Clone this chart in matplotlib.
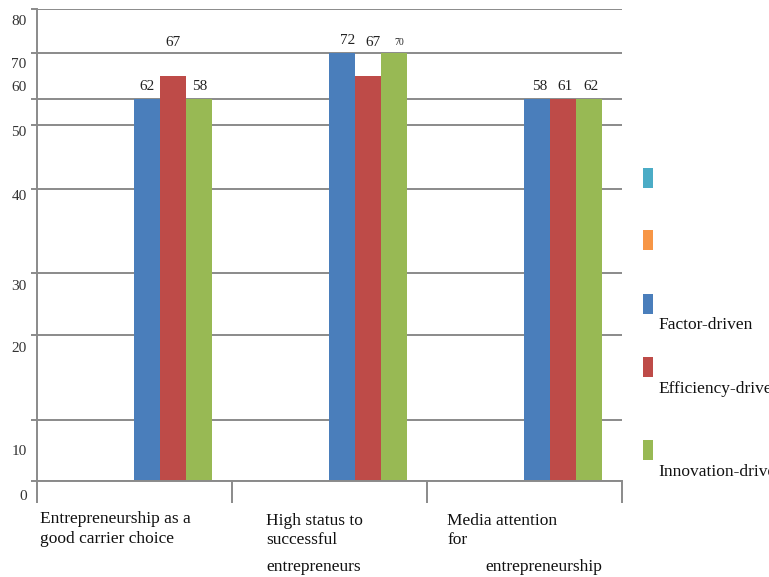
import numpy as np
import matplotlib
matplotlib.use("Agg")
import matplotlib.pyplot as plt
from matplotlib.patches import Rectangle
from matplotlib.transforms import ScaledTranslation

# ---------------- data ----------------
category_lines = [
    ["Entrepreneurship as a", "good carrier choice"],
    ["High status to", "successful", "entrepreneurs"],
    ["Media attention", "for", "entrepreneurship"],
]
series_names = ["", "", "Factor-driven", "Efficiency-driven", "Innovation-driven"]
series_colors = ["#4BACC6", "#F79646", "#4A7EBB", "#BE4B48", "#98B954"]
# bar heights as drawn against the (uneven) value axis
heights_teal = [0, 0, 0]
heights_orange = [0, 0, 0]
heights_factor = [60, 70, 60]
heights_efficiency = [65, 65, 60]
heights_innovation = [60, 70, 60]
# values printed above the bars
labels_factor = [62, 72, 58]
labels_efficiency = [67, 67, 61]
labels_innovation = [58, 70, 62]
y_ticks = [0, 10, 20, 30, 40, 50, 60, 70, 80]

heights = [heights_teal, heights_orange, heights_factor, heights_efficiency, heights_innovation]
labels = [None, None, labels_factor, labels_efficiency, labels_innovation]

# ---------------- layout ----------------
W, H = 769, 577
DPI = 100
# the value axis of the original is uneven: where each gridline sits (fraction of axis height)
grid_frac = [0.0, 0.1292, 0.3093, 0.4407, 0.6186, 0.7542, 0.8093, 0.9068, 1.0]

def fwd(v):
    return np.interp(v, y_ticks, grid_frac)

def inv(f):
    return np.interp(f, grid_frac, y_ticks)

serif = ["Liberation Serif", "DejaVu Serif"]
plt.rcParams["font.family"] = serif

fig = plt.figure(figsize=(W / DPI, H / DPI), dpi=DPI)
ax_left, ax_right, ax_top, ax_bottom = 37, 622, 9, 481
ax = fig.add_axes([ax_left / W, 1 - ax_bottom / H, (ax_right - ax_left) / W, (ax_bottom - ax_top) / H])
ax.set_yscale("function", functions=(fwd, inv))
ax.set_ylim(0, 80)
ax.set_xlim(-0.5, 2.5)

grid_color = "#8A8A8A"
for t in y_ticks:
    ax.axhline(t, color=grid_color, lw=1.4, zorder=1)

bw = 0.1333
x = np.arange(len(category_lines))
# px gap between bar top and its value label, [series][group]
label_gap = [[0, 0, 0], [0, 0, 0], [6, 6, 6], [27, 27, 6], [6, 6, 6]]
group_dx = [0, 5, 2]
for k, (h, c) in enumerate(zip(heights, series_colors)):
    xs = x + (k - 2) * bw
    ax.bar(xs, h, width=bw, align="edge", color=c, zorder=2, linewidth=0)
    if labels[k] is not None:
        for g in range(len(x)):
            fs = 7 if (k == 4 and g == 1) else 11
            ax.annotate(str(labels[k][g]), (xs[g] + bw / 2, h[g]),
                        xytext=(group_dx[g] * 0.72, label_gap[k][g] * 0.72), textcoords="offset points",
                        ha="center", va="bottom", fontsize=fs, color="#222222", zorder=3)

for s in ["top", "right"]:
    ax.spines[s].set_visible(False)
ax.spines["left"].set_color(grid_color)
ax.spines["bottom"].set_color(grid_color)
ax.spines["left"].set_linewidth(1.4)
ax.spines["bottom"].set_linewidth(1.4)

ax.set_xticks([-0.5, 0.5, 1.5, 2.5])
ax.set_xticklabels([])
ax.tick_params(axis="x", direction="out", length=16, width=1.4, color=grid_color)

ax.set_yticks(y_ticks)
ax.set_yticklabels([str(t) for t in y_ticks])
ax.yaxis.set_minor_locator(matplotlib.ticker.NullLocator())
ax.tick_params(axis="y", direction="out", length=4.5, width=1.4, color=grid_color,
               labelsize=11, pad=3, labelcolor="#333333")
label_dy = {0: 14, 10: 30, 20: 12, 30: 12, 40: 6, 50: 6, 60: -13, 70: 10, 80: 11}
for t, lab in zip(y_ticks, ax.get_yticklabels()):
    lab.set_transform(lab.get_transform() + ScaledTranslation(0, -label_dy[t] / DPI, fig.dpi_scale_trans))

# category labels (placed line by line as in the original)
line_pos = [
    [(40, 519), (40, 539)],
    [(266, 521), (266, 540), (266, 567)],
    [(447, 521), (447, 540), (485, 567)],
]
for lines, poss in zip(category_lines, line_pos):
    for txt, (px, py) in zip(lines, poss):
        fig.text(px / W, 1 - py / H, txt, ha="left", va="center", fontsize=12.5, color="#111111")

# legend (manual)
marker_top = [168, 230, 294, 357, 440]
text_y = [None, None, 325, 389, 472]
for k in range(len(series_names)):
    fig.add_artist(Rectangle((643 / W, 1 - (marker_top[k] + 20) / H), 10 / W, 20 / H,
                             transform=fig.transFigure, color=series_colors[k], lw=0))
    if series_names[k]:
        fig.text(658 / W, 1 - text_y[k] / H, series_names[k], ha="left", va="center",
                 fontsize=12.5, color="#111111")

fig.savefig("out.png", dpi=DPI)
